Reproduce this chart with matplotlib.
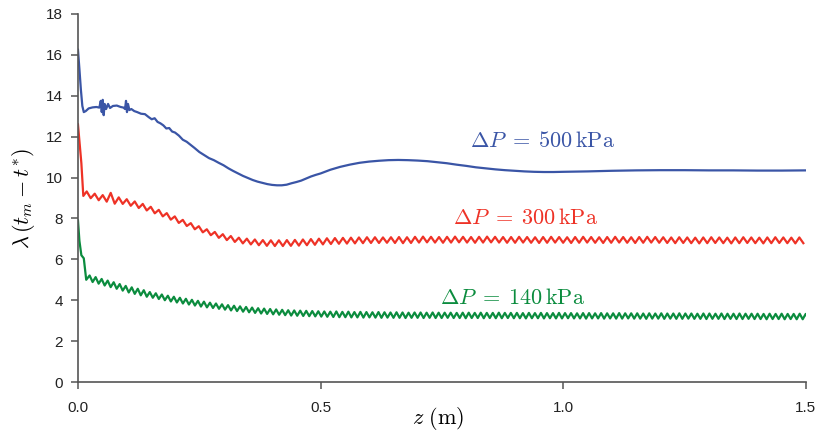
import numpy as np
import matplotlib
matplotlib.use("Agg")
import matplotlib.pyplot as plt

plt.rcParams['mathtext.fontset'] = 'cm'
plt.rcParams['font.family'] = ['Liberation Sans', 'DejaVu Sans']

# dP = 500 kPa : smooth curve, read point by point
blue_z = [0.000, 0.003, 0.006, 0.009, 0.012, 0.016, 0.022, 0.030, 0.038, 0.044,
          0.047, 0.049, 0.051, 0.053, 0.055, 0.058, 0.062, 0.066, 0.072, 0.080,
          0.088, 0.094, 0.097, 0.099, 0.101, 0.103, 0.106, 0.110, 0.116, 0.122,
          0.130, 0.138, 0.146, 0.152, 0.158, 0.164, 0.170, 0.176, 0.182, 0.188,
          0.194, 0.200, 0.208, 0.216, 0.224, 0.232, 0.240, 0.250, 0.260, 0.270,
          0.280, 0.290, 0.300, 0.310, 0.320, 0.330, 0.340, 0.350, 0.360, 0.370,
          0.380, 0.390, 0.400, 0.410, 0.420, 0.430, 0.440, 0.450, 0.460, 0.470,
          0.480, 0.490, 0.500, 0.520, 0.540, 0.560, 0.580, 0.600, 0.620, 0.640,
          0.660, 0.680, 0.700, 0.720, 0.740, 0.760, 0.780, 0.800, 0.820, 0.840,
          0.860, 0.880, 0.900, 0.920, 0.940, 0.960, 0.980, 1.000, 1.050, 1.100,
          1.150, 1.200, 1.250, 1.300, 1.350, 1.400, 1.450, 1.500]
blue_y = [16.25, 15.3, 14.3, 13.5, 13.2, 13.25, 13.38, 13.43, 13.45, 13.42,
          13.75, 13.2, 13.8, 13.05, 13.6, 13.35, 13.6, 13.4, 13.5, 13.52,
          13.45, 13.42, 13.35, 13.75, 13.2, 13.6, 13.3, 13.35, 13.25, 13.2,
          13.12, 13.1, 12.95, 12.85, 12.9, 12.72, 12.65, 12.55, 12.4, 12.42,
          12.25, 12.2, 12.05, 11.85, 11.75, 11.6, 11.45, 11.25, 11.1, 10.95,
          10.85, 10.72, 10.6, 10.45, 10.32, 10.2, 10.08, 9.98, 9.88, 9.8,
          9.74, 9.68, 9.64, 9.62, 9.62, 9.65, 9.72, 9.78, 9.85, 9.95,
          10.05, 10.13, 10.2, 10.38, 10.52, 10.63, 10.72, 10.78, 10.82, 10.85,
          10.86, 10.85, 10.83, 10.8, 10.75, 10.7, 10.63, 10.57, 10.5, 10.45,
          10.4, 10.36, 10.33, 10.3, 10.28, 10.27, 10.27, 10.28, 10.3, 10.33,
          10.35, 10.36, 10.36, 10.35, 10.35, 10.34, 10.34, 10.35]

# dP = 300 kPa : initial drop, then crest / trough values of the ripple
red_z0 = [0.000, 0.004, 0.007, 0.011]
red_y0 = [12.6, 11.5, 10.7, 9.1]
red_hi = [9.32, 9.21, 9.14, 9.25, 9.03, 8.94, 8.83, 8.71, 8.57, 8.42,
          8.26, 8.10, 7.93, 7.77, 7.62, 7.47, 7.34, 7.23, 7.14, 7.06,
          7.01, 6.97, 6.94, 6.93, 6.93, 6.94, 6.95, 6.97, 6.99, 7.01,
          7.03, 7.04, 7.05, 7.06, 7.07, 7.08, 7.08, 7.07, 7.08, 7.09,
          7.08, 7.10, 7.11, 7.10, 7.09, 7.10, 7.11, 7.10, 7.09, 7.10,
          7.11, 7.10, 7.09, 7.09, 7.10, 7.09, 7.08, 7.09, 7.10, 7.09,
          7.08, 7.09, 7.10, 7.09, 7.08, 7.09, 7.10, 7.09, 7.08, 7.09,
          7.10, 7.09, 7.08, 7.07, 7.08, 7.07, 7.06, 7.07, 7.08, 7.07,
          7.06, 7.07, 7.08, 7.07, 7.06, 7.07, 7.08, 7.07, 7.06, 7.07]
red_lo = [8.99, 8.89, 8.82, 8.72, 8.71, 8.62, 8.51, 8.39, 8.25, 8.10,
          7.94, 7.78, 7.63, 7.47, 7.32, 7.18, 7.05, 6.94, 6.85, 6.78,
          6.73, 6.69, 6.66, 6.65, 6.65, 6.66, 6.67, 6.69, 6.71, 6.73,
          6.75, 6.76, 6.77, 6.78, 6.79, 6.80, 6.80, 6.81, 6.80, 6.79,
          6.80, 6.82, 6.83, 6.82, 6.81, 6.82, 6.83, 6.82, 6.81, 6.82,
          6.83, 6.82, 6.81, 6.81, 6.82, 6.81, 6.80, 6.81, 6.82, 6.81,
          6.80, 6.81, 6.82, 6.81, 6.80, 6.81, 6.82, 6.81, 6.80, 6.81,
          6.82, 6.81, 6.80, 6.79, 6.80, 6.79, 6.78, 6.79, 6.80, 6.79,
          6.78, 6.79, 6.80, 6.79, 6.78, 6.79, 6.80, 6.79, 6.78, 6.79]

# dP = 140 kPa
green_z0 = [0.000, 0.003, 0.007, 0.012, 0.017]
green_y0 = [7.9, 6.9, 6.2, 6.05, 5.0]
green_hi = [5.21, 5.13, 5.04, 4.96, 4.88, 4.79, 4.70, 4.63, 4.56, 4.49,
            4.40, 4.34, 4.28, 4.22, 4.17, 4.12, 4.07, 4.02, 3.97, 3.93,
            3.88, 3.84, 3.80, 3.76, 3.73, 3.70, 3.67, 3.64, 3.61, 3.59,
            3.57, 3.55, 3.53, 3.51, 3.50, 3.49, 3.48, 3.47, 3.46, 3.45,
            3.44, 3.45, 3.43, 3.44, 3.42, 3.43, 3.42, 3.41, 3.42, 3.41,
            3.40, 3.41, 3.40, 3.39, 3.40, 3.40, 3.39, 3.40, 3.39, 3.39,
            3.39, 3.38, 3.39, 3.39, 3.38, 3.39, 3.38, 3.38, 3.39, 3.38,
            3.38, 3.38, 3.37, 3.38, 3.37, 3.38, 3.37, 3.37, 3.38, 3.37,
            3.37, 3.36, 3.37, 3.37, 3.36, 3.37, 3.36, 3.36, 3.37, 3.36,
            3.36, 3.36, 3.35, 3.36, 3.35, 3.36, 3.35, 3.35, 3.36, 3.35,
            3.35, 3.34, 3.35, 3.35, 3.34, 3.35, 3.34, 3.34, 3.35, 3.34,
            3.34, 3.34, 3.33, 3.34, 3.33, 3.34, 3.33, 3.33, 3.34, 3.33]
green_lo = [4.89, 4.81, 4.72, 4.64, 4.56, 4.47, 4.38, 4.31, 4.24, 4.17,
            4.12, 4.06, 4.00, 3.94, 3.89, 3.84, 3.79, 3.74, 3.69, 3.65,
            3.62, 3.58, 3.54, 3.50, 3.47, 3.44, 3.41, 3.38, 3.35, 3.33,
            3.31, 3.29, 3.27, 3.25, 3.24, 3.23, 3.22, 3.21, 3.20, 3.19,
            3.18, 3.17, 3.17, 3.16, 3.16, 3.15, 3.16, 3.15, 3.14, 3.15,
            3.14, 3.14, 3.13, 3.14, 3.14, 3.13, 3.14, 3.13, 3.13, 3.14,
            3.13, 3.13, 3.12, 3.13, 3.13, 3.12, 3.13, 3.12, 3.12, 3.13,
            3.12, 3.12, 3.11, 3.12, 3.12, 3.11, 3.12, 3.11, 3.11, 3.12,
            3.11, 3.11, 3.10, 3.11, 3.11, 3.10, 3.11, 3.10, 3.10, 3.11,
            3.10, 3.10, 3.09, 3.10, 3.10, 3.09, 3.10, 3.09, 3.09, 3.10,
            3.09, 3.09, 3.08, 3.09, 3.09, 3.08, 3.09, 3.08, 3.08, 3.09,
            3.08, 3.08, 3.07, 3.08, 3.08, 3.07, 3.08, 3.07, 3.07, 3.08]

labels = [r'$\Delta P\;=\;500\,\mathrm{kPa}$', r'$\Delta P\;=\;300\,\mathrm{kPa}$',
          r'$\Delta P\;=\;140\,\mathrm{kPa}$']
label_pos = [(0.957, 11.75), (0.922, 8.02), (0.895, 4.1)]
colors = ['#3a55a6', '#ee3226', '#0b8c3e']


def ripple(z0, y0, hi, lo, start, half_step):
    # crests and troughs alternate along z, half a ripple period apart
    vals = np.column_stack([hi, lo]).ravel()
    z = start + half_step * np.arange(len(vals))
    return np.concatenate([z0, z]), np.concatenate([y0, vals])


def main():
    red_z, red_y = ripple(red_z0, red_y0, red_hi, red_lo, 0.018, 0.00825)
    green_z, green_y = ripple(green_z0, green_y0, green_hi, green_lo, 0.024, 0.0062)

    fig = plt.figure(figsize=(8.19, 4.32), dpi=100)
    ax = fig.add_axes([0.0952, 0.1157, 0.8888, 0.852])
    lw = 1.6
    ax.plot(blue_z, blue_y, color=colors[0], lw=lw, solid_joinstyle='round')
    ax.plot(red_z, red_y, color=colors[1], lw=lw, solid_joinstyle='round')
    ax.plot(green_z, green_y, color=colors[2], lw=lw, solid_joinstyle='round')

    for txt, (x, y), c in zip(labels, label_pos, colors):
        ax.text(x, y, txt, color=c, fontsize=16, ha='center', va='center')

    ax.set_xlim(0, 1.5)
    ax.set_ylim(0, 18)
    ax.set_xticks([0.0, 0.5, 1.0, 1.5])
    ax.set_xticklabels(['0.0', '0.5', '1.0', '1.5'])
    ax.set_yticks(range(0, 19, 2))
    for s in ['top', 'right']:
        ax.spines[s].set_visible(False)
    for s in ['left', 'bottom']:
        ax.spines[s].set_color('#555555')
        ax.spines[s].set_linewidth(1.2)
    ax.tick_params(axis='both', direction='out', length=5, width=1.1,
                   color='#555555', labelsize=11, labelcolor='#222222')
    ax.tick_params(axis='x', pad=9)
    ax.tick_params(axis='y', pad=6)
    ax.set_xlabel(r'$z\ (\mathrm{m})$', fontsize=16, va='center')
    ax.xaxis.set_label_coords(0.495, -0.098)
    ax.set_ylabel(r'$\lambda\,(t_m - t^{*})$', fontsize=16, labelpad=6)

    fig.savefig('out.png', dpi=100)


if __name__ == '__main__':
    main()
